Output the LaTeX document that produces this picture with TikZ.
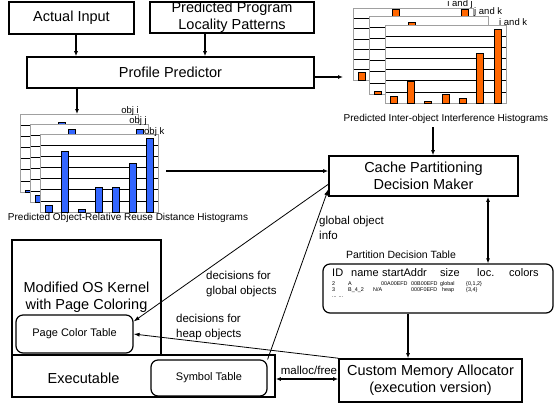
\documentclass[tikz,border=0pt]{standalone}
\usepackage{fontspec}
\setmainfont{Liberation Sans}
\usetikzlibrary{arrows.meta}

\definecolor{barblue}{HTML}{3366FF}
\definecolor{barorange}{HTML}{FF6600}
\definecolor{framegray}{HTML}{A0A0A0}

% one histogram sheet: left, top, width, height, bar colour, bar heights
\newcommand{\histframe}[6]{%
  \fill[white] (#1,#2) rectangle ++(#3,#4);
  \foreach \k in {1,...,6}
    \draw[line width=0.7pt] (#1,{#2+\k*#4/7}) -- ++(#3,0);
  \draw[framegray, line width=0.9pt] (#1,#2) rectangle ++(#3,#4);
  \foreach \h [count=\i] in {#6}
    \draw[fill=#5, line width=0.7pt] ({#1+5+(\i-1)*(#3-17)/6},{#2+#4}) rectangle ++(7,-\h);
}

\tikzset{
  box/.style={draw, line width=1.6pt, inner sep=0pt, align=center, font=\fontsize{14.5}{17}\selectfont},
  boxtext/.style={inner sep=0pt, font=\fontsize{14.5}{17}\selectfont},
  rbox/.style={draw, line width=1.2pt, rounded corners=7pt, inner sep=0pt, font=\fontsize{11}{13}\selectfont},
  arr/.style={-{Latex[length=5pt,width=4pt]}, line width=1.5pt},
  darr/.style={{Latex[length=5pt,width=4pt]}-{Latex[length=5pt,width=4pt]}, line width=1.5pt},
  tarr/.style={-{Latex[length=6pt,width=4pt]}, line width=0.8pt},
  note/.style={align=left, inner sep=0pt, font=\fontsize{11.5}{15.5}\selectfont},
  histcap/.style={inner sep=0pt, font=\fontsize{10}{12}\selectfont},
  histlbl/.style={inner sep=0pt, font=\fontsize{9.5}{11}\selectfont},
  tabhead/.style={anchor=base west, inner sep=0pt, font=\fontsize{11}{13}\selectfont},
  tabrow/.style={anchor=base west, inner sep=0pt, font=\fontsize{5.4}{7}\selectfont},
}

\begin{document}
\begin{tikzpicture}[x=1pt, y=-1pt]
\useasboundingbox (0,0) rectangle (556,408);

% histograms, back to front
\histframe{20}{114}{118}{78}{barblue}{2,30,70,40,20,50,60}
\histframe{30}{124}{118}{78}{barblue}{7,30,73,40,20,50,73}
\histframe{40}{134}{118}{78}{barblue}{7,61,3,25,25,49,74}
\node[histlbl, anchor=base east] (obji) at (139,113) {obj i};
\node[histlbl, anchor=base east] (objj) at (147,123) {obj j};
\node[histlbl, anchor=base west] (objk) at (144,134) {obj k};
\node[histcap] (lcap) at (128,218) {Predicted Object-Relative Reuse Distance Histograms};

\histframe{353}{8}{120}{72}{barorange}{8,30,71,40,20,50,71}
\histframe{369}{16}{119}{78}{barorange}{3,30,72,40,20,45,60}
\histframe{385}{25}{121}{78}{barorange}{7,22,2,9,5,50,74}
\node[histlbl, anchor=base east] (ij) at (473,6) {i and j};
\node[histlbl, anchor=base west] (jk) at (474,14) {j and k};
\node[histlbl, anchor=base west] (ik) at (499,25) {i and k};
\node[histcap] (rcap) at (446,119) {Predicted Inter-object Interference Histograms};

% boxes
\node[box, minimum width=125pt, minimum height=32pt] (ai) at (71.5,18) {Actual Input};
\node[box, minimum width=164pt, minimum height=31pt] (pplp) at (232,17.5) {Predicted Program\\Locality Patterns};
\node[box, minimum width=287pt, minimum height=31pt] (pp) at (170.5,72.5) {Profile Predictor};
\node[box, minimum width=189pt, minimum height=40pt] (cpdm) at (423.5,176) {Cache Partitioning\\Decision Maker};
\node[box, minimum width=149pt, minimum height=115pt] (kern) at (86.5,297.5) {Modified OS Kernel\\with Page Coloring};
\node[box, minimum width=263pt, minimum height=42pt] (exe) at (143.5,376) {};
\node[boxtext] (exetxt) at (83.5,378) {Executable};
\node[rbox, fill=white, minimum width=117pt, minimum height=38pt] (pct) at (74.5,334) {Page Color Table};
\node[rbox, minimum width=116pt, minimum height=36pt] (symt) at (209,378) {Symbol Table};
\node[box, minimum width=183pt, minimum height=43pt] (cma) at (430.5,380.5) {Custom Memory Allocator\\(execution version)};

% partition table
\node[inner sep=0pt, font=\fontsize{10.5}{12}\selectfont] (ptabtitle) at (401,255) {Partition Decision Table};
\node[rbox, minimum width=230pt, minimum height=49pt] (ptab) at (438,288.5) {};
\foreach \x/\t [count=\i] in {332/ID, 351/name, 382/startAddr, 440/size, 477/loc., 509/colors}
  \node[tabhead] (hd\i) at (\x,276) {\t};
\foreach \x/\t [count=\i] in {332/2, 348/A, 381/00A00EFD, 411/00B00EFD, 440/global, 466/{\{0,1,2\}}}
  \node[tabrow] (ra\i) at (\x,285) {\t};
\foreach \x/\t [count=\i] in {332/3, 348/{B\_4\_2}, 373/{N/A}, 411/000F0EFD, 442/heap, 466/{\{3,4\}}}
  \node[tabrow] (rb\i) at (\x,291.5) {\t};
\node[tabrow] (rc) at (332,297.5) {... ...};

% free ends
\coordinate (lhtop) at (77,114);
\coordinate (rhleft) at (343,77);
\coordinate (lhright) at (166,171);
\coordinate (rhbot) at (433,127);

% connectors
\draw[arr] (ai.south -| 76,0) -- (pp.north -| 76,0);
\draw[arr] (pplp.south -| 205,0) -- (pp.north -| 205,0);
\draw[arr] (pp.south -| lhtop) -- (lhtop);
\draw[arr] (pp.east |- rhleft) -- (rhleft);
\draw[arr] (lhright) -- (lhright -| cpdm.west);
\draw[arr] (rhbot) -- (rhbot |- cpdm.north);
\draw[darr] (cpdm.south -| 488,0) -- (ptab.north -| 488,0);
\draw[arr] (ptab.south -| 408,0) -- (cma.north -| 408,0);
\draw[darr] (exe.east |- 0,379) -- (cma.west |- 0,379);
\draw[tarr] (cpdm.185) -- (pct.12);
\draw[tarr] (cma.north west) -- (pct.east);
\draw[tarr] (symt.north east) -- (cpdm.188);

% labels
\node[note, anchor=west] (dglob) at (206,284) {decisions for\\global objects};
\node[note, anchor=west] (dheap) at (176,327) {decisions for\\heap objects};
\node[note, anchor=west] (ginfo) at (319,228) {global object\\info};
\node[note, anchor=center] (mfree) at (309,370) {malloc/free};

\end{tikzpicture}
\end{document}
